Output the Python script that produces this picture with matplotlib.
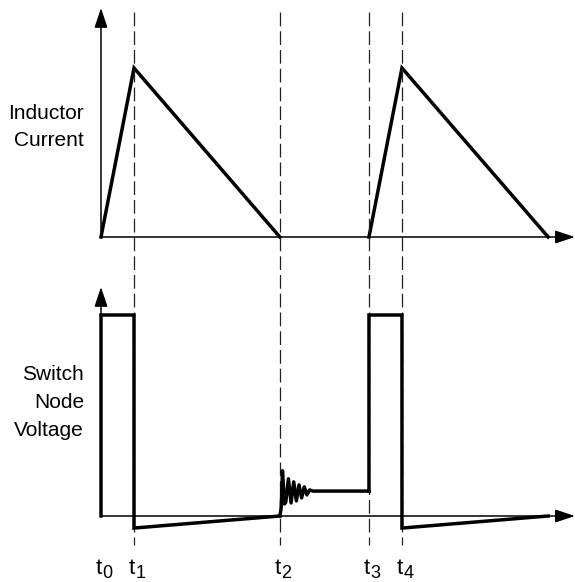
import matplotlib
matplotlib.use("Agg")
import matplotlib.pyplot as plt
import matplotlib.transforms as mtransforms

plt.rcParams['font.family'] = ['Liberation Sans', 'DejaVu Sans']

# switching instants (t1 - t0 = 1 unit)
t_marks = [0.0, 1.0, 5.42, 8.12, 9.12]
t_subs = ["0", "1", "2", "3", "4"]
t_end = 13.55          # current reaches zero again after t4
axis_len_x = 14.36     # where the time arrow ends

# inductor current (peak = 1)
cur_t1 = [0.0, 1.0, 5.42]
cur_i1 = [0.0, 1.0, 0.0]
cur_t2 = [8.12, 9.12, t_end]
cur_i2 = [0.0, 1.0, 0.0]

# switch node voltage (high level = 1)
v_t1 = [0.0, 0.0, 1.0, 1.0, 5.42]
v_v1 = [0.0, 1.0, 1.0, -0.06, 0.0]
# ringing after t2
ring_t = [5.42, 5.46, 5.50, 5.56, 5.60, 5.68, 5.76, 5.84, 5.92, 6.00, 6.08,
          6.16, 6.24, 6.32, 6.42, 8.12]
ring_v = [0.0, 0.04, 0.225, 0.06, 0.07, 0.185, 0.065, 0.17, 0.075, 0.155,
          0.09, 0.145, 0.105, 0.13, 0.124, 0.124]
v_t2 = [8.12, 8.12, 9.12, 9.12, t_end]
v_v2 = [0.124, 1.0, 1.0, -0.06, 0.0]

W, H = 575, 582
fig = plt.figure(figsize=(W / 100, H / 100), dpi=100)

x0_px, px_per_t = 101, 33.0
xlim = (-x0_px / px_per_t, (W - x0_px) / px_per_t)

# top panel: rows 0..260, baseline at 237, 169 px per unit
ax1 = fig.add_axes([0, 1 - 260 / H, 1, 260 / H])
ax1.set_xlim(xlim)
ax1.set_ylim(-23 / 169, 237 / 169)
# bottom panel: rows 270..582, baseline at 516, 201 px per unit
ax2 = fig.add_axes([0, 0, 1, 312 / H])
ax2.set_xlim(xlim)
ax2.set_ylim(-66 / 201, 246 / 201)

for ax in (ax1, ax2):
    ax.axis('off')

arrow = dict(arrowstyle='-|>,head_length=0.6,head_width=0.2', lw=1.1, color='k',
             shrinkA=0, shrinkB=0, mutation_scale=20)
ax1.annotate('', xy=(0, 229 / 169), xytext=(0, 0), arrowprops=arrow)
ax1.annotate('', xy=(axis_len_x, 0), xytext=(0, 0), arrowprops=arrow)
ax2.annotate('', xy=(0, 229 / 201), xytext=(0, 0), arrowprops=arrow)
ax2.annotate('', xy=(axis_len_x, 0), xytext=(0, 0), arrowprops=arrow)

lw = 2.5
ax1.plot(cur_t1, cur_i1, color='k', lw=lw, solid_joinstyle='miter', clip_on=False)
ax1.plot(cur_t2, cur_i2, color='k', lw=lw, solid_joinstyle='miter', clip_on=False)
ax2.plot(v_t1, v_v1, color='k', lw=lw, solid_joinstyle='miter', clip_on=False)
ax2.plot(ring_t, ring_v, color='k', lw=lw, solid_joinstyle='round', clip_on=False)
ax2.plot(v_t2, v_v2, color='k', lw=lw, solid_joinstyle='miter', clip_on=False)

# dashed markers spanning both panels
trans = mtransforms.blended_transform_factory(ax1.transData, fig.transFigure)
for t in t_marks[1:]:
    ax1.plot([t, t], [1 - 12 / H, 1 - 545 / H], transform=trans, color='#222222',
             lw=0.9, linestyle=(0, (11, 4)), clip_on=False)

# time labels: "t" plus a subscript digit
for t, sub in zip(t_marks, t_subs):
    ax1.text(t + 0.02, 1 - 569 / H, "t", transform=trans, ha='right', va='center',
             fontsize=16)
    ax1.text(t + 0.04, 1 - 574 / H, sub, transform=trans, ha='left', va='center',
             fontsize=13)

fig.text(84 / W, 1 - 127 / H, "Inductor\nCurrent", ha='right', va='center',
         fontsize=15, linespacing=1.55)
fig.text(84 / W, 1 - 403 / H, "Switch\nNode\nVoltage", ha='right', va='center',
         fontsize=15, linespacing=1.6)

fig.savefig("out.png", dpi=100)
